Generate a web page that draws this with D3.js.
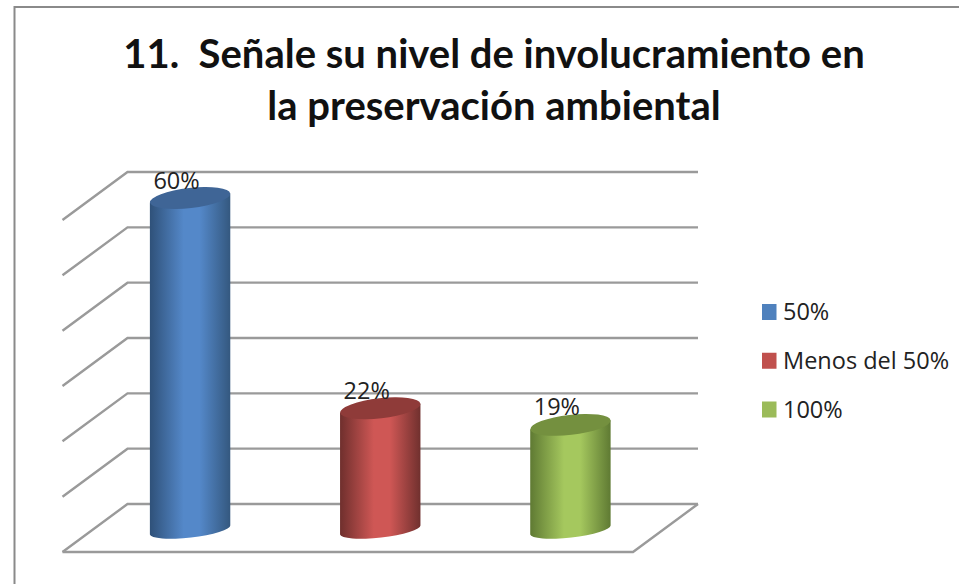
<!DOCTYPE html>
<html>
<head>
<meta charset="utf-8">
<script src="https://cdn.jsdelivr.net/npm/d3@7"></script>
<style>
  html, body { margin: 0; padding: 0; background: #fff; }
  svg { display: block; }
</style>
</head>
<body>
<div id="chart"></div>
<script>
const categories = ['50%', 'Menos del 50%', '100%']
const values = [60, 22, 19]
const valueLabels = ['60%', '22%', '19%']
const gridTicks = [0, 10, 20, 30, 40, 50, 60]
const titleLines = ['11.  Señale su nivel de involucramiento en', 'la preservación ambiental']

const legendColors = ['#4f81bd', '#c0504d', '#9bbb59']
const sideColors = [['#2f5179', '#5488c9', '#34587f'], ['#6f2f2d', '#cf5755', '#70302e'], ['#5f7a33', '#a5c85e', '#5f7a33']]
const capColors = ['#3f6596', '#8f3b39', '#74903f']

const width = 959
const height = 584
// back wall of the 3d box, the floor comes forward by depth
const wall = { left: 127.5, right: 698, top: 172, bottom: 504 }
const depth = { x: -65, y: 48 }
const barRx = 40.2
const capRy = 10
const baseRy = 7.5
const barTilt = 4.6

const svg = d3.select('#chart')
  .append('svg')
  .attr('width', width)
  .attr('height', height)

const y = d3.scaleLinear().domain([0, 60]).range([wall.bottom, wall.top])
const x = d3.scaleBand()
  .domain(categories)
  .range([wall.left + depth.x / 2, wall.right + depth.x / 2])

// chart frame
svg.append('path')
  .attr('d', 'M14.5,584V7H959')
  .attr('fill', 'none')
  .attr('stroke', '#8a8a8a')
  .attr('stroke-width', 2)

const title = svg.append('g')
  .attr('font-family', 'Lato, sans-serif')
  .attr('font-weight', 700)
  .attr('font-size', 40)
  .attr('fill', '#111')
  .attr('text-anchor', 'middle')
title.selectAll('text')
  .data(titleLines)
  .join('text')
  .attr('x', 494)
  .attr('y', (d, i) => 68 + i * 52)
  .attr('xml:space', 'preserve')
  .style('white-space', 'pre')
  .text(d => d)

// gridlines, back wall and left wall
const grid = svg.append('g')
  .attr('fill', 'none')
  .attr('stroke', '#9a9a9a')
  .attr('stroke-width', 2.4)
grid.selectAll('path')
  .data(gridTicks)
  .join('path')
  .attr('d', d => `M${wall.left + depth.x},${y(d) + depth.y}L${wall.left},${y(d)}H${wall.right}`)

// floor
grid.append('path')
  .attr('d', `M${wall.left + depth.x},${y(0) + depth.y}H${wall.right + depth.x}L${wall.right},${y(0)}`)

const defs = svg.append('defs')
sideColors.forEach((c, i) => {
  const g = defs.append('linearGradient').attr('id', 'side' + i)
  g.append('stop').attr('offset', '0%').attr('stop-color', c[0])
  g.append('stop').attr('offset', '42%').attr('stop-color', c[1])
  g.append('stop').attr('offset', '62%').attr('stop-color', c[1])
  g.append('stop').attr('offset', '100%').attr('stop-color', c[2])
})

// cylinders sit half way into the floor
const baseShift = depth.y / 2 + 2
const barTop = d => y(d) + baseShift
const barBottom = y(0) + baseShift
const cx = c => x(c) + x.bandwidth() / 2

const bars = svg.append('g')
  .selectAll('g')
  .data(categories.map((c, i) => ({ c, i, v: values[i] })))
  .join('g')

bars.append('path')
  .attr('fill', d => `url(#side${d.i})`)
  .attr('d', d => {
    const l = cx(d.c) - barRx
    const r = cx(d.c) + barRx
    return `M${l},${barTop(d.v) + barTilt}L${r},${barTop(d.v) - barTilt}`
      + `L${r},${barBottom - barTilt}`
      + `A${barRx},${baseRy} -6.5 0 1 ${l},${barBottom + barTilt}Z`
  })

bars.append('ellipse')
  .attr('cx', d => cx(d.c))
  .attr('cy', d => barTop(d.v))
  .attr('rx', barRx + 0.2)
  .attr('ry', capRy)
  .attr('transform', d => `rotate(-6.5 ${cx(d.c)} ${barTop(d.v)})`)
  .attr('fill', d => capColors[d.i])

bars.append('text')
  .attr('x', d => cx(d.c) - 13.5)
  .attr('y', d => barTop(d.v) - 9.5)
  .attr('font-family', '"Open Sans", sans-serif')
  .attr('font-size', 23.5)
  .attr('fill', '#222')
  .attr('text-anchor', 'middle')
  .text(d => valueLabels[d.i])

// legend
const legendY = d3.scalePoint().domain(categories).range([312, 409.5])
const legend = svg.append('g')
  .selectAll('g')
  .data(categories)
  .join('g')
  .attr('transform', d => `translate(762,${legendY(d)})`)
legend.append('rect')
  .attr('x', 0)
  .attr('y', -8)
  .attr('width', 14.5)
  .attr('height', 16)
  .attr('fill', (d, i) => legendColors[i])
legend.append('text')
  .attr('x', 21)
  .attr('y', 8)
  .attr('font-family', '"Open Sans", sans-serif')
  .attr('font-size', 23.5)
  .attr('fill', '#222')
  .text(d => d)
</script>
</body>
</html>
